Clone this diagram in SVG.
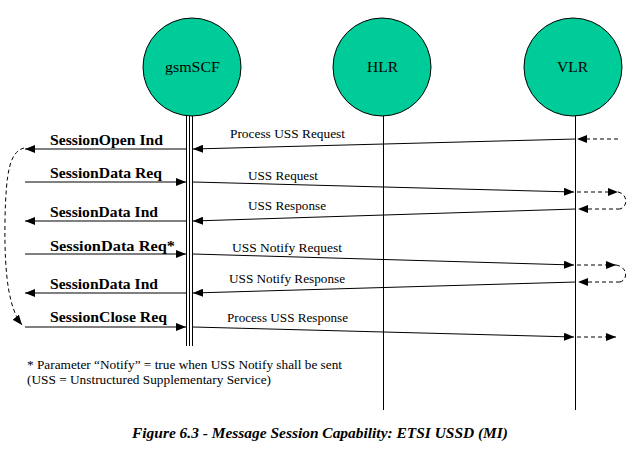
<svg xmlns="http://www.w3.org/2000/svg" width="635" height="460" viewBox="0 0 635 460">
<style>
.node{fill:#00cc99;stroke:#000;stroke-width:1}
.nl{font-family:"Liberation Serif",serif;font-size:15px;fill:#000}
.life{stroke:#000;stroke-width:1;fill:none}
.msg{stroke:#000;stroke-width:1;fill:none;marker-end:url(#ah)}
.dash{stroke:#000;stroke-width:1;fill:none;stroke-dasharray:4,3}
.dm{stroke:#000;stroke-width:1;fill:none;stroke-dasharray:4,3;marker-end:url(#ah)}
.bl{font-family:"Liberation Serif",serif;font-size:15px;font-weight:bold;fill:#000}
.sl{font-family:"Liberation Serif",serif;font-size:12px;fill:#000}
.cap{font-family:"Liberation Serif",serif;font-size:15px;font-weight:bold;font-style:italic;fill:#000}
</style>
<defs>
<marker id="ah" markerWidth="10" markerHeight="8" refX="10" refY="4" orient="auto" markerUnits="userSpaceOnUse">
<path d="M0,0 L10,4 L0,8 Z" fill="#000"/>
</marker>
</defs>
<g id="gsmSCF">
<circle class="node" cx="192" cy="67" r="49"/>
<text class="nl" x="165" y="72" textLength="55" lengthAdjust="spacingAndGlyphs">gsmSCF</text>
</g>
<g id="HLR">
<circle class="node" cx="382" cy="67" r="49"/>
<text class="nl" x="367" y="72" textLength="31" lengthAdjust="spacingAndGlyphs">HLR</text>
</g>
<g id="VLR">
<circle class="node" cx="573" cy="67" r="49"/>
<text class="nl" x="557" y="72" textLength="31" lengthAdjust="spacingAndGlyphs">VLR</text>
</g>
<g id="lifelines">
<line class="life" x1="186.5" y1="116" x2="186.5" y2="346"/>
<line class="life" x1="189.5" y1="116" x2="189.5" y2="346"/>
<line class="life" x1="192.5" y1="116" x2="192.5" y2="346"/>
<line class="life" x1="383.5" y1="116" x2="383.5" y2="410"/>
<line class="life" x1="575.5" y1="116" x2="575.5" y2="410"/>
</g>
<g id="connectors">
<line class="msg" x1="186" y1="149" x2="25" y2="149"/>
<line class="msg" x1="25" y1="182" x2="186" y2="182"/>
<line class="msg" x1="186" y1="221" x2="25" y2="221"/>
<line class="msg" x1="25" y1="254" x2="186" y2="254"/>
<line class="msg" x1="186" y1="293" x2="25" y2="293"/>
<line class="msg" x1="25" y1="327" x2="186" y2="327"/>
<path class="dm" d="M24,148 C10,152 6,170 5,220 C4,280 10,310 22,325"/>
<line class="dm" x1="618" y1="139" x2="577" y2="139"/>
<line class="msg" x1="576" y1="139" x2="193" y2="149"/>
<line class="msg" x1="193" y1="182" x2="574" y2="192"/>
<line class="dm" x1="577" y1="192" x2="618" y2="192"/>
<path class="dash" d="M618,192 C628,194 628,207 620,209"/>
<line class="dm" x1="620" y1="209" x2="578" y2="209"/>
<line class="msg" x1="576" y1="209" x2="193" y2="221"/>
<line class="msg" x1="193" y1="254" x2="574" y2="265"/>
<line class="dm" x1="577" y1="265" x2="616" y2="265"/>
<path class="dash" d="M616,265 C628,267 628,280 620,282"/>
<line class="dm" x1="620" y1="282" x2="578" y2="282"/>
<line class="msg" x1="576" y1="282" x2="193" y2="293"/>
<line class="msg" x1="193" y1="327" x2="574" y2="337"/>
<line class="dm" x1="577" y1="337" x2="616" y2="337"/>
</g>
<g id="labels">
<text class="bl" x="50" y="145" textLength="113" lengthAdjust="spacingAndGlyphs">SessionOpen Ind</text>
<text class="bl" x="50" y="178" textLength="112" lengthAdjust="spacingAndGlyphs">SessionData Req</text>
<text class="bl" x="50" y="217" textLength="108" lengthAdjust="spacingAndGlyphs">SessionData Ind</text>
<text class="bl" x="50" y="251" textLength="125" lengthAdjust="spacingAndGlyphs">SessionData Req*</text>
<text class="bl" x="50" y="289" textLength="108" lengthAdjust="spacingAndGlyphs">SessionData Ind</text>
<text class="bl" x="50" y="322" textLength="117" lengthAdjust="spacingAndGlyphs">SessionClose Req</text>
<text class="sl" x="230" y="138" textLength="115" lengthAdjust="spacingAndGlyphs">Process USS Request</text>
<text class="sl" x="248" y="180" textLength="70" lengthAdjust="spacingAndGlyphs">USS Request</text>
<text class="sl" x="248" y="210" textLength="78" lengthAdjust="spacingAndGlyphs">USS Response</text>
<text class="sl" x="232" y="252" textLength="110" lengthAdjust="spacingAndGlyphs">USS Notify Request</text>
<text class="sl" x="229" y="283" textLength="116" lengthAdjust="spacingAndGlyphs">USS Notify Response</text>
<text class="sl" x="227" y="322" textLength="121" lengthAdjust="spacingAndGlyphs">Process USS Response</text>
<text class="sl" x="27" y="369" textLength="315" lengthAdjust="spacingAndGlyphs">* Parameter “Notify” = true when USS Notify shall be sent</text>
<text class="sl" x="27" y="384" textLength="244" lengthAdjust="spacingAndGlyphs">(USS = Unstructured Supplementary Service)</text>
<text class="cap" x="132" y="438" textLength="376" lengthAdjust="spacingAndGlyphs">Figure 6.3 - Message Session Capability: ETSI USSD (MI)</text>
</g>
</svg>
